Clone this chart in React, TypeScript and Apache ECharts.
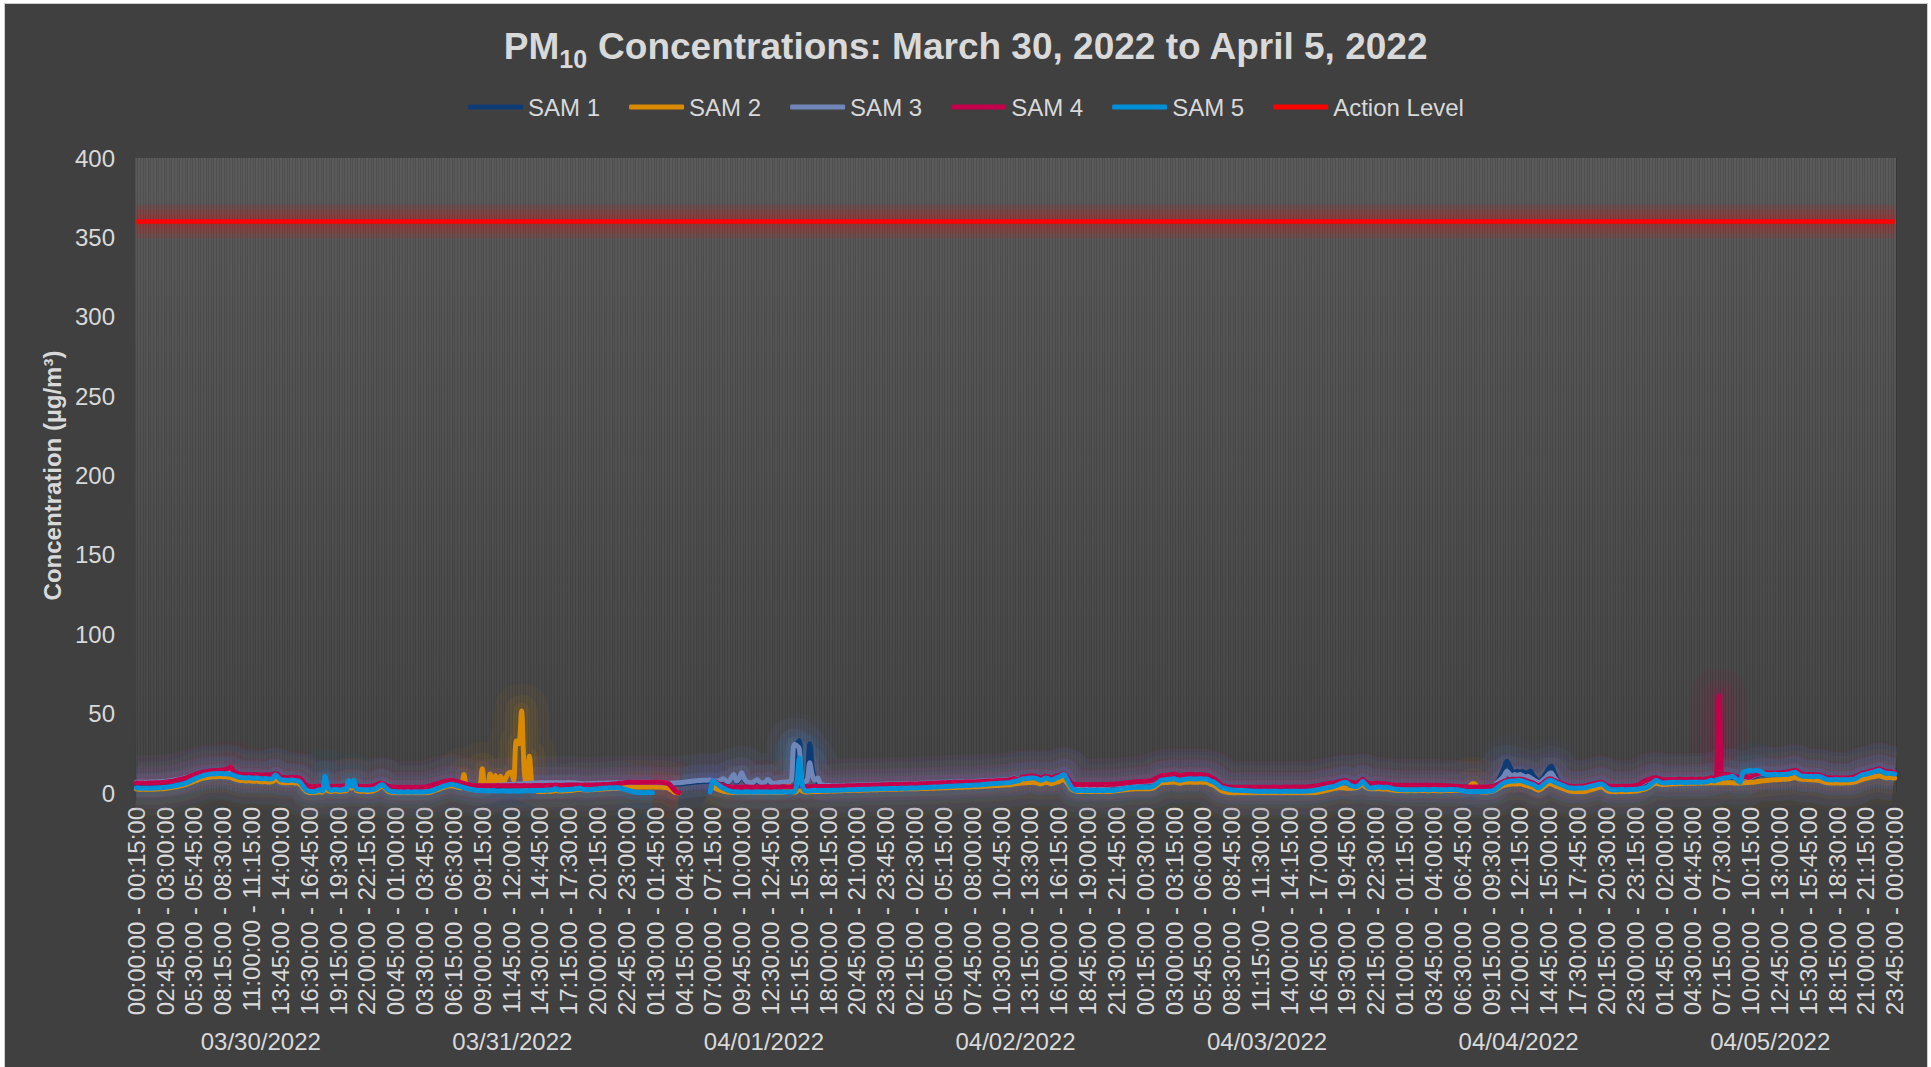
import React, { useEffect, useRef } from "react";
import * as echarts from "echarts";

// ---------- categories ----------
const DATES = ["03/30/2022", "03/31/2022", "04/01/2022", "04/02/2022", "04/03/2022", "04/04/2022", "04/05/2022"];
const pad2 = (n: number) => String(n).padStart(2, "0");
const hhmm = (m: number) => `${pad2(Math.floor(m / 60) % 24)}:${pad2(m % 60)}:00`;
const TIME_SLOTS = Array.from({ length: 96 }, (_, s) => `${hhmm(s * 15)} - ${hhmm(s * 15 + 15)}`);
const CATEGORIES = DATES.flatMap((d) => TIME_SLOTS.map((t) => `${d} ${t}`));

const ACTION_LEVEL = 360;
const Y_TICKS = { min: 0, max: 400, interval: 50 };
const _ = null;

// ---------- SAM 1 ----------
const SAM1_D1 = [6.0,6.0,6.1,6.0,6.0,6.1,6.1,6.2,6.2,6.3,6.4,6.5,6.7,6.9,
7.2,7.5,7.8,8.2,8.6,9.0,9.5,10.0,10.5,11.0,11.5,11.9,12.2,12.4,12.6,
12.7,12.8,12.8,12.9,12.9,12.8,12.7,12.6, 11.8,11.0,10.4,10.1,
10.0,9.9,10.1,9.8,9.7,9.9,9.6,9.5,9.6,9.5,9.4,9.8, 11.0,10.2,
8.4,8.2,8.1,8.0,8.2,8.3,8.1,7.8, 6.7,4.8,3.4,2.8,
2.6,2.7,2.8,2.8,2.7,3.0,2.9,2.8,2.7,2.8,2.9,2.8,3.0,3.1, 3.8,3.5,4.0,3.2,
2.9,2.8,2.7,2.8,2.9,3.1,3.5,4.2, 5.0,4.7,3.7];
const SAM1_D2 = [3.1,2.7,2.5,2.4,
2.4,2.4,2.3,2.4,2.4,2.3,2.4,2.5,2.4,2.4,2.6,2.8,3.2,
3.8,4.3,4.8,5.3,5.8,6.2,6.6,6.8, 6.6,6.2,5.8,5.3,4.8,4.4,4.0,3.7,3.5,3.4,
3.4,3.5,3.6,3.7,3.8,3.9,4.0,4.1,4.2,4.3,4.4,4.5,4.6,4.7,4.8,4.9,5.0,5.1,5.2,5.3,5.4,5.5,
5.5,5.6,5.6,5.7,5.7,5.6,5.7,5.8,5.7,5.6,5.7,5.7,5.8,5.7,5.6,5.4,5.2,5.0,4.9,5.0,
5.1,5.2,5.2,5.3,5.3,5.4,5.4,5.5,5.5,5.6,5.6,5.7,5.7,5.8,5.8,5.8,5.9,5.9,6.0];
const SAM1_D3 = [6.0,6.0,6.0,5.9,5.9,5.8,5.8,5.7,5.7,5.6,5.5,5.4,
5.4,5.5,5.6,5.7,5.8,6.0,6.2,6.4,6.6,6.8,7.0,7.1,7.2,7.2,7.3,7.4,
7.4,7.2,6.9,7.6,8.3,7.2,6.4,8.9,11.0,6.9,8.4,12.1,8.4,6.4,6.0,5.9,6.9,7.8,6.2,5.7,6.4,7.9,6.4,5.4,5.6,5.9,6.2,6.4,6.4,6.6,7.4,
12.0,30.0,33.0,10.0,6.5,10.0,31.0,15.0,8.0,7.0,5.5,
4.4,4.2,4.1,4.1,4.0,4.0,4.0,4.1,4.1,4.2,4.2,4.3,4.3,4.4,4.4,4.5,4.5,4.6,4.6,4.7,4.7,4.8,4.8,4.9,4.9,5.0];
const SAM1_D4 = [5.0,5.0,5.1,5.1,5.2,5.2,5.2,5.3,
5.3,5.4,5.4,5.5,5.6,5.6,5.7,5.8,5.8,5.9,6.0,6.1,6.2,
6.2,6.3,6.3,6.4,6.4,6.5,6.5,6.6,6.6,6.7,6.7,6.7,6.8,
6.9,7.0,7.1,7.2,7.2,7.3,7.4,7.5,7.5,7.6,7.7,7.9, 8.4,8.8,8.3,8.1,
9.1,9.3,9.5,9.7,9.9,9.7,9.1,8.6,8.9,9.7,9.3,8.6,8.9,9.7,10.1,10.9,11.3,9.6,7.0,
5.0,4.4,4.2, 4.2,4.1,4.2,4.2,4.1,4.2,4.2,4.3,4.2,4.2,4.3,4.3,4.4,4.4,
4.5,4.7,4.9,5.1,5.3,5.5,5.7,5.9,6.0,6.1];
const SAM1_D5 = [6.2,6.3,6.4,6.5,7.1, 7.9,8.9,9.7, 9.9,10.1,10.3,10.5,10.9, 10.4,9.9,10.1,10.4,
10.5,10.7,10.5,10.4,10.5,10.6,10.4,10.3,9.9, 8.9,8.1,6.9,5.4,3.9, 3.3,2.9,2.7,2.6,2.5,
2.5,2.6,2.5,2.5,2.6,2.5,2.5,2.6,2.6,2.5,2.6,2.6,2.5,2.6,2.7,2.6,2.6,2.5,2.6,2.7,2.6,2.6,2.7,2.7,2.6,2.7,2.7,2.8,2.9,3.1,
3.4,3.7,4.0,4.3,4.6,4.9,5.1,5.3, 5.7,6.1,6.4,6.7,6.4, 5.7,5.3,5.2,5.5,6.4,7.5, 6.1,5.1,4.9,4.9,
5.0,5.1,4.9,4.7,4.6,4.4,4.1];
const SAM1_D6 = [3.9,3.8,3.8,3.7,3.8,3.8,3.7,3.8,3.8,3.7,3.8,3.8,3.9,3.8,3.7,3.8,3.8,3.7,3.6,3.5,3.4,3.4,3.3,3.2,3.1,3.0,2.9,2.8,
2.7,2.7,2.6,2.7,2.7,2.6,2.7,2.7,2.8,2.9,
4.0,6.0,8.5,12.0,16.0,20.0,17.0,14.0,13.0,13.7,13.0, 13.7,12.5,13.0,13.7,11.0,9.0,7.0,
8.0,10.0,12.5,15.5,16.9, 13.0,9.0,6.5,5.0,4.5,4.0, 3.4,3.3,3.2,3.3,3.4,3.3,3.5,
4.0,4.5,4.9,5.3,5.7,6.1, 5.1,3.9,3.4,3.3,3.3,3.2,3.3,3.4,3.3,3.3,3.4,3.5,3.7,4.1, 4.9,5.9];
const SAM1_D7 = [6.8,7.5,8.0,8.4, 8.6,8.0,7.6,7.4,
7.3,7.4,7.5,7.4,7.5,7.6,7.5,7.4,7.5,7.6,7.6,7.5,7.6,7.7,7.6,7.8,
8.2,8.6,8.4,9.0,9.4,9.9,10.6,10.8,10.4,10.0,9.5,9.0,9.4, 9.5,9.2,9.0,9.2,10.2,10.8,11.3,
11.6,11.5,11.6,11.7,11.6,11.5,11.7,11.6,11.8,12.0,12.3,12.6, 13.0,13.3,12.6,11.5,
10.8,10.6,10.7,10.6,10.5,10.6,10.4,10.0,9.3, 8.8,8.6,8.5,8.5,8.6,8.4,8.5,8.5,8.4,8.6,8.8,9.3,
10.2,11.0,11.6,12.0,12.5,12.8,13.2,13.7,14.2, 13.6,13.0,12.4,12.5,12.2,12.0];

// ---------- SAM 2 ----------
const SAM2_D1 = [2.5,2.4,2.3,2.3,2.4,2.3,2.3,2.4,2.5,2.6,2.7,2.9,3.1,3.3,
3.6,3.9,4.2,4.6,5.0,5.5,6.0,6.6,7.3,8.0,8.6,9.1,9.5,9.8,10.0,
10.2,10.3,10.3,10.4,10.3,10.2,10.1,9.8, 9.2,8.6,8.2,7.9,
7.8,7.6,7.8,7.5,7.4,7.6,7.3,7.1,7.2,7.0,6.9,7.2, 8.5,8.0,
6.8,6.6,6.5,6.4,6.6,6.5,6.3,6.0, 4.5,2.5,0.8,0.2, 0.1,0.2,0.5,0.8,0.5, 3.0, 1.5,
1.0,1.2,1.4,1.2,1.0,1.5,1.2, 5.0,3.0,5.5, 1.5, 1.2,1.1,1.2,1.0,1.1,1.3,1.8,2.6, 3.8,4.2,2.8];
const SAM2_D2 = [1.2,0.5,0.2,0.1,
0.1,0.1,0.1,0.1,0.1,0.1,0.1,0.1,0.1,0.1,0.2,0.3,0.5,
1.0,1.6,2.2,2.8,3.4,3.9,4.3,4.6, 4.4,4.0,3.6,3.2, 11.6, 3.0,2.6,2.3,2.1,2.0,2.2, 15.2, 3.5,3.0,
12.0,6.0,11.0,7.0,10.5,6.0,9.5,12.5,13.0,8.0, 32.7,31.0,51.7,15.0,4.0,23.2,5.0,2.5,
1.0,1.0,0.9,1.0,1.1,1.0,1.2,1.8,1.3,1.2,1.3,1.4,1.5,1.6,1.8,
2.2,2.3,2.1,2.0,1.9,2.0,2.1,2.2,2.3,2.4,2.5,2.6,2.7,2.8,2.9,3.0,3.2,3.4, 3.6,3.7,3.8,3.8,3.8,3.8];
const SAM2_D3 = [3.8,3.8,3.9,3.8,3.8,3.9,3.8,3.8,3.7,3.6,3.4,3.0, 2.0,0.8,0.2,0.0,
_,_,_,_,_,_,_,_,_,_,_,_, 4.0, 3.0,2.2,1.6,1.1,0.8,0.5,0.4,0.3,
0.3,0.3,0.3,0.3,0.3,0.3,0.3,0.3,0.3,0.3,0.3,0.3,0.3,0.3,0.3,0.3,0.3,0.3,0.3,
2.5,5.0,2.0,0.5, 1.0,3.0,1.5,0.8,0.7,
0.8,0.9,0.9,1.0,1.0,1.1,1.1,1.2,1.2,1.3,1.3,1.4,1.4,1.5,
1.5,1.6,1.6,1.7,1.7,1.8,1.8,1.9,1.9,2.0,2.0,2.1,2.1,2.2,2.2,2.3,2.3];
const SAM2_D4 = [2.3,2.4,2.4,2.5,2.5,2.6,2.6,2.6,
2.6,2.7,2.7,2.8,2.8,2.9,2.9,3.0,3.0,3.1,3.1,3.2,3.3,
3.3,3.4,3.4,3.5,3.5,3.6,3.6,3.7,3.8,3.8,3.9,4.0,4.0,
4.1,4.2,4.3,4.4,4.5,4.6,4.7,4.8,4.9,5.0,5.1,5.2, 5.4,5.7,6.0,6.2,
6.3,6.4,6.5,6.6,6.7,6.6,6.2,5.8,6.2,6.8,6.5,5.9,6.2,6.8,7.2,8.0,8.6,6.8,4.5,
2.2,1.5,1.1, 1.0,1.0,0.9,1.0,1.0,1.0,0.9,1.0,1.0,1.1,1.0,1.0,1.1,1.2,
1.4,1.6,1.8,2.0,2.2,2.4,2.5,2.6,2.6,2.6];
const SAM2_D5 = [2.6,2.7,2.7,2.8,3.2, 4.2,5.4,6.4, 6.5,6.6,6.7,6.8,6.9, 6.6,6.2,6.4,6.7,
6.8,6.9,6.8,6.7,6.8,6.9,6.8,6.7,6.4, 5.6,5.0,4.0,2.8,1.6, 1.0,0.6,0.3,0.1,0.0,
0.1,0.1,0.1,0.1,0.1,0.1,0.1,0.1,0.1,0.1,0.1,0.1,0.1,0.1,0.1,0.1,0.1,0.1,0.1,0.1,0.1,0.1,0.1,0.1,0.1,0.1,0.1,0.1,0.1,0.1,
0.3,0.6,0.9,1.2,1.6,2.0,2.4,2.8, 3.2,3.4,3.3,3.2,3.0, 3.0,3.1,3.2,3.5,4.5,5.3, 4.0,3.0,2.6,2.6,
2.7,2.8,2.6,2.5,2.5,2.3,2.0];
const SAM2_D6 = [1.8,1.6,1.5,1.5,1.4,1.4,1.5,1.5,1.4,1.5,1.5,1.6,1.5,1.4,1.5,1.6,1.5,1.4,1.4,1.5,1.5,1.6,1.6,1.5,1.6,
1.6,1.7,2.0, 2.5,4.5,6.0,5.5,2.0,0.8,0.7,0.7,0.8,1.0,
1.5,2.3,3.3,4.2,4.8,5.2,5.5,5.6,5.6,5.7,5.8, 5.5,5.0,4.5,4.0,3.5,2.5,1.8,
2.5,3.8,5.0,5.8,5.8, 5.0,4.3,3.6,3.0,2.4,1.8, 1.2,1.0,0.9,1.0,1.0,0.9,1.0,
1.5,2.0,2.5,3.0,3.5,3.9, 3.2,1.8,1.0,0.9,0.9,0.8,0.9,1.0,0.9,0.9,1.0,1.1,1.2,1.4, 1.8,2.2];
const SAM2_D7 = [2.6,3.4,4.5,5.6, 6.2,5.8,5.5,5.4,
5.5,5.6,5.7,5.8,5.9,6.0,6.0,6.1,6.1,6.2,6.2,6.2,6.3,6.3,6.3,6.3,
6.4,6.4,6.4,6.4,6.5,6.5,6.5,6.5,6.4,6.4,6.3,6.3,6.3, 6.4,6.5,6.6,6.7,6.8,7.0,7.2,
7.5,7.7,7.9,8.0,8.2,8.3,8.4,8.5,8.6,8.7,8.8,9.0, 9.5,9.8,9.2,8.8,
8.7,8.6,8.5,8.4,8.3,8.2,8.0,7.6,7.0, 6.6,6.4,6.3,6.3,6.4,6.3,6.3,6.4,6.4,6.5,6.7,7.0,
7.6,8.2,8.8,9.2,9.6,10.0,10.3,10.6,10.8, 10.5,10.0,9.6,9.8,9.6,9.4];

// ---------- SAM 3 ----------
const SAM3_D1 = [6.8,6.8,6.9,6.8,6.8,6.9,6.9,7.0,7.0,7.1,7.2,7.3,7.5,7.7,
8.0,8.3,8.6,9.0,9.4,9.8,10.3,10.8,11.3,11.8,12.3,12.7,13.0,13.2,13.4,
13.5,13.6,13.6,13.7,13.7,13.6,13.5,13.4, 12.6,11.8,11.2,10.9,
10.8,10.7,10.9,10.6,10.5,10.7,10.4,10.3,10.4,10.3,10.2,10.6, 11.8,11.0,
9.2,9.0,8.9,8.8,9.0,9.1,8.9,8.6, 7.5,5.6,4.2,3.6,
3.4,3.5,3.6,3.6,3.5,3.8,3.7,3.6,3.5,3.6,3.7,3.6,3.8,3.9, 4.6,4.3,4.8,4.0,
3.7,3.6,3.5,3.6,3.7,3.9,4.3,5.0, 5.8,5.5,4.5];
const SAM3_D2 = [3.9,3.5,3.3,3.2,
3.2,3.2,3.1,3.2,3.2,3.1,3.2,3.3,3.2,3.2,3.4,3.6,4.0,
4.6,5.1,5.6,6.1,6.6,7.0,7.4,7.6, 7.4,7.0,6.6,6.1,5.6,5.2,4.8,4.5,4.3,4.2,
4.2,4.3,4.4,4.5,4.6,4.7,4.8,4.9,5.0,5.1,5.2,5.3,5.4,5.5,5.6,5.7,5.8,5.9,6.0,6.1,6.2,6.3,
6.3,6.4,6.4,6.5,6.5,6.4,6.5,6.6,6.5,6.4,6.5,6.5,6.6,6.5,6.4,6.2,6.0,5.8,5.7,5.8,
5.9,6.0,6.0,6.1,6.1,6.2,6.2,6.3,6.3,6.4,6.4,6.5,6.5,6.6,6.6,6.6,6.7,6.7,6.8];
const SAM3_D3 = [6.8,6.8,6.8,6.7,6.7,6.6,6.6,6.5,6.5,6.4,6.3,6.2,
6.2,6.3,6.4,6.5,6.6,6.8,7.0,7.2,7.4,7.6,7.8,7.9,8.0,8.0,8.1,8.2,
8.0,7.8,7.5,8.2,8.9,7.8,7.0,9.5,11.6,7.5,9.0,12.7,9.0,7.0,6.6,6.5,7.5,8.4,6.8,6.3,7.0,8.5,7.0,6.0,6.2,6.5,6.8,7.0,7.0,7.2,8.0,
30.6,30.0,28.0,8.0,7.0,8.0,19.0,11.0,8.0,9.5,6.0,
5.0,4.8,4.7,4.7,4.6,4.6,4.6,4.7,4.7,4.8,4.8,4.9,4.9,5.0,5.0,5.1,5.1,5.2,5.2,5.3,5.3,5.4,5.4,5.5,5.5,5.6];
const SAM3_D4 = [5.6,5.6,5.7,5.7,5.8,5.8,5.8,5.9,
5.9,6.0,6.0,6.1,6.2,6.2,6.3,6.4,6.4,6.5,6.6,6.7,6.8,
6.8,6.9,6.9,7.0,7.0,7.1,7.1,7.2,7.2,7.3,7.3,7.3,7.4,
7.5,7.6,7.7,7.8,7.8,7.9,8.0,8.1,8.1,8.2,8.3,8.5, 9.0,9.4,8.9,8.7,
9.7,9.9,10.1,10.3,10.5,10.3,9.7,9.2,9.5,10.3,9.9,9.2,9.5,10.3,10.7,11.5,11.9,10.2,7.6,
5.6,5.0,4.8, 4.8,4.7,4.8,4.8,4.7,4.8,4.8,4.9,4.8,4.8,4.9,4.9,5.0,5.0,
5.1,5.3,5.5,5.7,5.9,6.1,6.3,6.5,6.6,6.7];
const SAM3_D5 = [6.8,6.9,7.0,7.1,7.7, 8.5,9.5,10.3, 10.5,10.7,10.9,11.1,11.5, 11.0,10.5,10.7,11.0,
11.1,11.3,11.1,11.0,11.1,11.2,11.0,10.9,10.5, 9.5,8.7,7.5,6.0,4.5, 3.9,3.5,3.3,3.2,3.1,
3.1,3.2,3.1,3.1,3.2,3.1,3.1,3.2,3.2,3.1,3.2,3.2,3.1,3.2,3.3,3.2,3.2,3.1,3.2,3.3,3.2,3.2,3.3,3.3,3.2,3.3,3.3,3.4,3.5,3.7,
4.0,4.3,4.6,4.9,5.2,5.5,5.7,5.9, 6.3,6.7,7.0,7.3,7.0, 6.3,5.9,5.8,6.1,7.0,8.1, 6.7,5.7,5.5,5.5,
5.6,5.7,5.5,5.3,5.2,5.0,4.7];
const SAM3_D6 = [4.5,4.4,4.4,4.3,4.4,4.4,4.3,4.4,4.4,4.3,4.4,4.4,4.5,4.4,4.3,4.4,4.4,4.3,4.2,4.1,4.0,4.0,3.9,3.8,3.7,3.6,3.5,3.4,
3.3,3.3,3.2,3.3,3.3,3.2,3.3,3.3,3.4,3.5,
4.5,6.0,7.5,9.0,11.0,13.7,12.0,10.0,11.6,11.0,11.6, 11.0,10.0,10.5,9.5,8.5,7.5,6.5,
7.0,8.5,10.0,12.0,12.6, 10.0,8.0,6.5,5.5,5.0,4.6, 4.0,3.9,3.8,3.9,4.0,3.9,4.1,
4.6,5.1,5.5,5.9,6.3,6.7, 5.7,4.5,4.0,3.9,3.9,3.8,3.9,4.0,3.9,3.9,4.0,4.1,4.3,4.7, 5.5,6.5];
const SAM3_D7 = [7.4,8.1,8.6,9.0, 9.2,8.6,8.2,8.0,
7.9,8.0,8.1,8.0,8.1,8.2,8.1,8.0,8.1,8.2,8.2,8.1,8.2,8.3,8.2,8.4,
8.8,9.2,9.0,9.6,10.0,10.5,11.2,11.4,11.0,10.6,10.1,9.6,10.0, 10.1,9.8,9.6,9.8,10.8,11.4,11.9,
12.2,12.1,12.2,12.3,12.2,12.1,12.3,12.2,12.4,12.6,12.9,13.2, 13.6,13.9,13.2,12.1,
11.4,11.2,11.3,11.2,11.1,11.2,11.0,10.6,9.9, 9.4,9.2,9.1,9.1,9.2,9.0,9.1,9.1,9.0,9.2,9.4,9.9,
10.8,11.6,12.2,12.6,13.1,13.4,13.8,14.3,14.8, 14.2,13.6,13.0,13.1,12.8,12.6];

// ---------- SAM 4 ----------
const SAM4_D1 = [6.3,6.2,6.3,6.2,6.2,6.3,6.3,6.4,6.4,6.5,6.6,6.8,7.0,7.2,
7.5,7.9,8.3,8.7,9.1,9.6,10.2,10.8,11.4,12.0,12.5,13.0,13.3,13.6,13.8,
14.0,14.1,14.2,14.3,14.5,14.8,15.5,16.2, 14.0,12.8,12.0,11.7,
11.6,11.5,11.7,11.4,11.5,11.6,11.3,11.2,11.4,11.5,11.3,11.6, 12.2,11.8,
10.0,9.8,9.7,9.6,9.8,9.9,9.7,9.5, 8.5,6.5,5.0,4.2,
4.0,4.1,4.2,4.3,4.2,4.5,4.4,4.2,4.1,4.2,4.3,4.2,4.4,4.5, 5.0,4.8,5.2,4.6,
4.2,4.1,4.0,4.1,4.2,4.4,4.8,5.5, 6.3,6.0,5.0];
const SAM4_D2 = [4.3,3.9,3.7,3.6,
3.6,3.6,3.5,3.6,3.6,3.5,3.6,3.7,3.6,3.6,3.8,4.0,4.4,
5.0,5.5,6.0,6.5,7.0,7.4,7.8,8.0, 7.8,7.4,7.0,6.5,6.0,5.6,5.2,4.9,4.7,4.6,
4.6,4.5,4.5,4.6,4.6,4.5,4.6,4.7,4.6,4.5,4.6,4.6,4.5,4.6,4.7,4.6,4.6,4.7,4.6,4.5,
4.6,4.7,4.8,4.7,4.6,4.7,4.8,4.9,4.8,5.0,4.9,4.8,4.9,5.0,5.1,5.0,5.0,
5.0,5.0,4.9,5.0,5.1,5.0,5.0,5.1,5.2,5.2,5.3,5.3,5.4,5.5,5.6,5.8,6.0,6.2, 6.4,6.6,6.7,6.7,6.8,6.7];
const SAM4_D3 = [6.7,6.8,6.7,6.8,6.8,6.7,6.8,6.8,6.7,6.6,6.4,6.0, 4.5,2.5,0.8,0.2,
_,_,_,_,_,_,_,_,_,_,_, 0.3,8.0, 7.0,6.0,5.2,4.6,4.2,3.9,3.7,3.6,
3.6,3.7,3.6,3.7,3.8,3.7,3.6,3.7,3.8,3.7,3.7,3.8,3.7,3.6,3.7,3.8,3.7,3.8,3.9,3.8,3.8,3.9,4.0,
4.2,4.5,4.3,4.0,3.9,
4.0,4.0,4.1,4.0,4.1,4.1,4.2,4.1,4.2,4.2,4.3,4.3,4.4,4.4,
4.5,4.5,4.6,4.6,4.7,4.7,4.8,4.8,4.9,4.9,5.0,5.0,5.1,5.1,5.2,5.2,5.3];
const SAM4_D4 = [5.3,5.3,5.4,5.4,5.5,5.5,5.5,5.6,
5.6,5.7,5.7,5.8,5.9,5.9,6.0,6.1,6.1,6.2,6.3,6.4,6.5,
6.5,6.6,6.6,6.7,6.7,6.8,6.8,6.9,6.9,7.0,7.0,7.0,7.1,
7.2,7.3,7.4,7.5,7.5,7.6,7.7,7.8,7.8,7.9,8.0,8.2, 8.8,9.2,8.6,8.4,
10.0,10.2,10.4,10.6,10.8,10.6,10.0,9.5,9.8,10.6,10.2,9.5,9.8,10.6,11.0,11.8,12.2,10.5,8.0,
6.0,5.5,5.3, 5.3,5.2,5.3,5.3,5.2,5.3,5.3,5.4,5.3,5.3,5.4,5.4,5.5,5.5,
5.6,5.8,6.0,6.2,6.4,6.6,6.8,7.0,7.1,7.2];
const SAM4_D5 = [7.3,7.4,7.5,7.6,8.2, 9.0,10.0,10.8, 11.0,11.2,11.4,11.6,12.0, 11.5,11.0,11.2,11.5,
11.6,11.8,11.6,11.5,11.6,11.7,11.5,11.4,11.0, 10.0,9.2,8.0,6.5,5.0, 4.4,4.0,3.8,3.7,3.6,
3.6,3.7,3.6,3.6,3.7,3.6,3.6,3.7,3.7,3.6,3.7,3.7,3.6,3.7,3.8,3.7,3.7,3.6,3.7,3.8,3.7,3.7,3.8,3.8,3.7,3.8,3.8,3.9,4.0,4.2,
4.5,4.8,5.1,5.4,5.7,6.0,6.2,6.4, 6.8,7.2,7.5,7.8,7.5, 6.8,6.4,6.3,6.6,7.5,8.6, 7.2,6.2,6.0,6.0,
6.1,6.2,6.0,5.8,5.7,5.5,5.2];
const SAM4_D6 = [5.0,4.9,4.9,4.8,4.9,4.9,4.8,4.9,4.9,4.8,4.9,4.9,5.0,4.9,4.8,4.9,4.9,4.8,4.7,4.6,4.5,4.5,4.4,4.3,4.2,4.1,4.0,3.9,
3.8,3.8,3.7,3.8,3.8,3.7,3.8,3.8,3.9,4.0,
4.5,5.0,5.8,6.6,7.4,8.0,8.4,8.6,8.6,8.7,8.8, 8.5,8.0,7.3,6.8,6.3,5.4,4.5,
5.2,6.5,7.8,8.8,8.8, 8.0,7.3,6.6,6.0,5.4,4.8, 4.3,4.2,4.1,4.2,4.3,4.2,4.4,
4.9,5.4,5.8,6.2,6.6,7.0, 6.0,4.8,4.3, 4.2,4.2,4.1,4.2,4.3,4.2,4.2,4.3,4.4,4.6,5.0, 5.8,7.0];
const SAM4_D7 = [7.8,8.5,9.0,9.4, 9.6,9.0,8.6,8.4,
8.3,8.4,8.5,8.4,8.5,8.6,8.5,8.4,8.5,8.6,8.6,8.5,8.6,8.7,8.6,8.8,
9.2,9.6,9.4,10.0, 61.2,11.0, 11.6,11.8,11.4,11.0,10.5,10.0,10.4,
10.5,10.2,10.0,10.2,11.2,11.8,12.3,
12.6,12.5,12.6,12.7,12.6,12.5,12.7,12.6,12.8,13.0,13.3,13.6, 14.0,14.3,13.6,12.5,
11.8,11.6,11.7,11.6,11.5,11.6,11.4,11.0,10.3, 9.8,9.6,9.5,9.5,9.6,9.4,9.5,9.5,9.4,9.6,9.8,10.3,
11.2,12.0,12.6,13.0,13.5,13.8,14.2,14.7,15.2, 14.6,14.0,13.4,13.5,13.2,13.0];

// ---------- SAM 5 ----------
const SAM5_D1 = [3.2,3.1,3.0,3.0,3.1,3.0,3.0,3.1,3.2,3.3,3.4,3.6,3.8,4.0,
4.3,4.7,5.0,5.4,5.8,6.3,7.0,7.8,8.6,9.4,10.1,10.7,11.2,11.6,11.9,
12.1,12.2,12.2,12.3,12.2,12.1,12.0,11.8, 11.2,10.6,10.1,9.8,
9.6,9.5,9.7,9.4,9.3,9.5,9.2,9.0,9.1,8.9,8.8,9.2, 11.3,10.2,
8.4,8.1,8.0,7.9,8.2,8.0,7.7,7.5, 5.8,3.5,1.6,1.0, 0.8,0.9,1.5,2.0,1.2, 10.5, 4.0,
1.8,2.0,2.2,2.0,1.8,2.5,2.0, 7.8,4.5,8.0, 2.5, 2.2,2.0,2.1,1.9,2.0,2.2,2.6,3.5, 4.8,5.2,3.5];
const SAM5_D2 = [2.0,1.2,0.8,0.7,
0.6,0.6,0.5,0.6,0.6,0.5,0.6,0.7,0.6,0.6,0.7,0.8,1.0,
1.5,2.2,2.9,3.5,4.1,4.6,5.1,5.5, 5.3,4.9,4.4,3.9,3.4,3.0,2.6,2.2,1.9,1.7,
1.6,1.5,1.4,1.3,1.4,1.5,1.3,1.2,1.3,1.4,1.2,1.1,1.2,1.3,1.2,1.1,1.2,1.3,1.4,1.5,1.4,1.5,1.6,1.7,1.6,1.7,1.8,1.9,2.0,
2.8, 2.0,1.9,2.0,2.1,2.2,2.3,2.5, 2.8,3.0,2.5,2.2,2.0,2.1,2.3,2.5,2.6,
2.8,3.0,3.1,3.2,3.3,3.2,3.4,3.3,3.0, 2.5,2.0,1.5,1.0,0.6,0.4];
const SAM5_D3 = [0.3,0.2,0.2,0.3,0.2,0.2,
_,_,_,_,_,_,_,_,_,_,_,_,_,_,_,_,_,_,_,_,_, 0.5, 8.0,
6.5,5.2,4.0,3.0,2.2,1.5,1.0,0.7,
0.6,0.6,0.5,0.6,0.6,0.6,0.5,0.6,0.6,0.7,0.6,0.6,0.6,0.5,0.6,0.6,0.6,0.6,0.7,0.6,0.6,0.7,0.8,
5.0,22.0,6.0,1.5,1.2,
1.4,1.5,1.5,1.6,1.5,1.5,1.6,1.7,1.6,1.7,1.8,1.8,1.9,1.9,
2.0,2.0,2.1,2.1,2.2,2.2,2.3,2.3,2.4,2.4,2.5,2.5,2.6,2.6,2.7,2.7,2.8];
const SAM5_D4 = [2.8,2.8,2.9,2.9,3.0,3.0,3.0,3.1,
3.1,3.2,3.2,3.3,3.4,3.5,3.5,3.6,3.7,3.8,3.8,3.9,4.0,
4.1,4.2,4.2,4.3,4.4,4.5,4.5,4.6,4.7,4.8,4.9,5.0,5.0,
5.1,5.3,5.4,5.6,5.7,5.9,6.0,6.1,6.2,6.3,6.4,6.5, 6.8,7.2,7.6,8.0,
8.9,9.0,9.2,9.4,9.5,9.4,8.8,8.0,8.5,9.5,9.0,8.2,8.5,9.5,10.0,11.0,11.6,9.0,6.0,
3.0,2.0,1.6, 1.5,1.5,1.4,1.5,1.5,1.5,1.4,1.5,1.5,1.6,1.5,1.5,1.6,1.7,
2.0,2.3,2.5,2.8,3.1,3.3,3.5,3.6,3.6,3.6];
const SAM5_D5 = [3.6,3.7,3.7,3.8,4.2, 5.3,6.8,8.0, 8.2,8.4,8.6,8.8,8.9, 8.5,8.0,8.2,8.6,
8.9,9.0,8.9,8.8,8.9,9.0,8.9,8.8,8.5, 7.5,7.0,6.0,4.8,3.5, 3.0,2.6,2.2,1.9,1.7,
1.7,1.6,1.6,1.5,1.4,1.3,1.2,
1.1,1.1,1.0,1.1,1.1,1.0,1.1,1.1,1.1,1.0,1.0,1.1,1.1,1.0,1.1,1.1,1.1,1.0,1.1,1.1,1.2,1.3,1.5,
1.8,2.1,2.5,2.8,3.2,3.6,3.9,4.2, 4.8,5.5,6.2,6.7,6.5, 5.0,4.4,4.0,4.3,5.5,7.4, 5.5,3.8,3.2,3.3,
3.6,3.8,3.6,3.5,3.6,3.4,3.0];
const SAM5_D6 = [2.6,2.3,2.2,2.1,2.1,2.0,2.1,2.1,2.0,2.1,2.1,
2.2,2.1,2.0,2.1,2.2,2.1,2.0,2.0,2.1,2.1,2.2,2.2,2.1,2.0,1.8,1.5,1.2,
1.0,1.0,0.9,1.0,1.0,0.9,1.0,1.0,1.1,1.2,
1.8,2.8,4.2,5.5,6.5,7.0,7.4,7.6,7.6,7.7,7.8, 7.5,7.0,6.3,5.8,5.3,4.2,3.2,
4.0,5.5,6.8,7.8,7.8, 7.0,6.3,5.6,5.0,4.3,3.6, 3.1,3.1,3.0,3.1,3.2,3.1,3.3,
3.8,4.3,4.6,5.0,5.5,5.9, 5.0,3.5,2.5, 2.1,2.1,2.0,2.1,2.2,2.1,2.1,2.2,2.2,2.3,2.5, 2.8,3.0];
const SAM5_D7 = [3.3,4.2,5.5,7.0, 8.0,7.2,6.5,6.3,
6.5,6.6,6.7,6.6,6.7,6.8,6.7,6.6,6.7,6.8,6.8,6.7,6.8,6.9,6.8,7.0,
7.5,8.0,7.6,8.2,8.6,9.0,9.5, 9.7,10.0,10.5,9.5,8.0,6.7,
12.5,13.7,14.0,14.3,13.8,14.4,14.0, 13.5,12.0,
11.6,11.5,11.6,11.8,11.6,11.5,11.7,11.6,11.8,12.2, 12.8,13.0,12.0,11.0,
10.5,10.6,10.4,10.5,10.3,10.5,10.4,10.0,9.2, 8.6,8.4,8.3,8.4,8.5,8.3,8.4,8.4,8.3,8.5,8.6,9.0,
10.0,11.0,11.6,11.8,12.3,12.8,13.3,13.8,14.3, 13.5,12.8,12.3,12.5,12.2,12.0];

const SAM1 = [...SAM1_D1, ...SAM1_D2, ...SAM1_D3, ...SAM1_D4, ...SAM1_D5, ...SAM1_D6, ...SAM1_D7];
const SAM2 = [...SAM2_D1, ...SAM2_D2, ...SAM2_D3, ...SAM2_D4, ...SAM2_D5, ...SAM2_D6, ...SAM2_D7];
const SAM3 = [...SAM3_D1, ...SAM3_D2, ...SAM3_D3, ...SAM3_D4, ...SAM3_D5, ...SAM3_D6, ...SAM3_D7];
const SAM4 = [...SAM4_D1, ...SAM4_D2, ...SAM4_D3, ...SAM4_D4, ...SAM4_D5, ...SAM4_D6, ...SAM4_D7];
const SAM5 = [...SAM5_D1, ...SAM5_D2, ...SAM5_D3, ...SAM5_D4, ...SAM5_D5, ...SAM5_D6, ...SAM5_D7];

const SERIES_NAMES = ["SAM 1", "SAM 2", "SAM 3", "SAM 4", "SAM 5", "Action Level"];
const COLORS = ["#0E3B74", "#DA8A00", "#7086B8", "#C5004B", "#0090D8", "#FF0000"];
const GLOW_COLORS = ["#3a64b8", "#DA8A00", "#8a9ad0", "#C5004B", "#0090D8", "#FF0000"];

const TEXT = "#D9D9D9";
const FONT = "'Liberation Sans', Arial, sans-serif";

export default function App() {
  const ref = useRef<HTMLDivElement>(null);
  useEffect(() => {
    if (!ref.current) return;
    const chart = echarts.init(ref.current, undefined, { renderer: "svg" });
    const actionData = CATEGORIES.map(() => ACTION_LEVEL);
    const datas = [SAM1, SAM2, SAM3, SAM4, SAM5, actionData];

    // soft glow layers (drawn beneath), same data as the main lines
    const glowLayers: any[] = [];
    const samLayers = [
      { width: 54, opacity: 0.05 },
      { width: 32, opacity: 0.07 },
      { width: 16, opacity: 0.1 },
    ];
    const actionLayers = [
      { width: 34, opacity: 0.11 },
      { width: 24, opacity: 0.1 },
      { width: 14, opacity: 0.1 },
    ];
    datas.forEach((d, i) => {
      const spec = i === 5 ? actionLayers : samLayers;
      spec.forEach((ls, k) => {
        glowLayers.push({
          name: `${SERIES_NAMES[i]} glow ${k}`,
          type: "line",
          data: d,
          symbol: "none",
          showSymbol: false,
          smooth: i === 5 ? false : 0.3,
          silent: true,
          z: 1,
          lineStyle: {
            color: GLOW_COLORS[i],
            width: ls.width,
            opacity: ls.opacity,
            cap: "butt",
            join: "round",
          },
          emphasis: { disabled: true },
        });
      });
    });

    const mainSeries = SERIES_NAMES.map((name, i) => ({
      name,
      type: "line",
      data: datas[i],
      symbol: "none",
      showSymbol: false,
      smooth: i === 5 ? false : 0.3,
      connectNulls: false,
      z: 3 + i,
      lineStyle: {
        color: COLORS[i],
        width: i === 5 ? 4.5 : 5,
        cap: i === 5 ? "butt" : "round",
        join: "round",
      },
      itemStyle: { color: COLORS[i] },
      emphasis: { disabled: true },
    }));

    chart.setOption({
      animation: false,
      backgroundColor: "#404040",
      textStyle: { fontFamily: FONT },
      title: {
        text: "{a|PM}{b|10}{a| Concentrations: March 30, 2022 to April 5, 2022}",
        left: "center",
        top: 12,
        textStyle: {
          rich: {
            a: { fontSize: 37, fontWeight: "bold", color: TEXT, fontFamily: FONT, lineHeight: 50 },
            b: { fontSize: 25, fontWeight: "bold", color: TEXT, fontFamily: FONT, lineHeight: 25, verticalAlign: "bottom" },
          },
        },
      },
      legend: {
        data: SERIES_NAMES,
        top: 86,
        left: "center",
        icon: "roundRect",
        itemWidth: 55,
        itemHeight: 5,
        itemGap: 29,
        textStyle: { color: TEXT, fontSize: 24, fontFamily: FONT },
        selectedMode: false,
      },
      grid: {
        left: 130,
        right: 31,
        top: 154,
        bottom: 277,
        containLabel: false,
        outerBoundsMode: "none",
        show: true,
        borderWidth: 0,
        backgroundColor: {
          type: "linear", x: 0, y: 0, x2: 0, y2: 1,
          colorStops: [
            { offset: 0, color: "#5b5b5b" },
            { offset: 1, color: "#454545" },
          ],
        },
      },
      xAxis: [
        {
          type: "category",
          data: CATEGORIES,
          boundaryGap: true,
          axisLine: { show: false },
          axisTick: { show: false },
          splitLine: { show: true, interval: 0, lineStyle: { color: "rgba(0,0,0,0.12)", width: 1 } },
          axisLabel: {
            interval: 10,
            rotate: 90,
            margin: 14,
            fontSize: 24,
            color: TEXT,
            fontFamily: FONT,
            formatter: (v: string) => v.slice(11),
          },
        },
        {
          type: "category",
          data: DATES,
          position: "bottom",
          offset: 228,
          boundaryGap: true,
          axisLine: { show: false },
          axisTick: { show: false },
          splitLine: { show: false },
          axisLabel: { interval: 0, margin: 8, fontSize: 24, color: TEXT, fontFamily: FONT },
        },
      ],
      yAxis: {
        type: "value",
        min: Y_TICKS.min,
        max: Y_TICKS.max,
        interval: Y_TICKS.interval,
        axisLine: { show: false },
        axisTick: { show: false },
        splitLine: { show: false },
        axisLabel: { fontSize: 24, color: TEXT, margin: 20, fontFamily: FONT },
        name: "Concentration (µg/m³)",
        nameLocation: "middle",
        nameRotate: 90,
        nameGap: 68,
        nameTextStyle: { fontSize: 24, fontWeight: "bold", color: TEXT, fontFamily: FONT },
      },
      series: [...glowLayers, ...mainSeries],
    });
    return () => chart.dispose();
  }, []);

  return (
    <div style={{ position: "fixed", left: 0, top: 0, width: 1931, height: 1067, background: "#ffffff", overflow: "hidden" }}>
      <div
        ref={ref}
        style={{ position: "absolute", left: 5, top: 4, width: 1922, height: 1066, outline: "1px solid #cfcfcf" }}
      />
    </div>
  );
}
